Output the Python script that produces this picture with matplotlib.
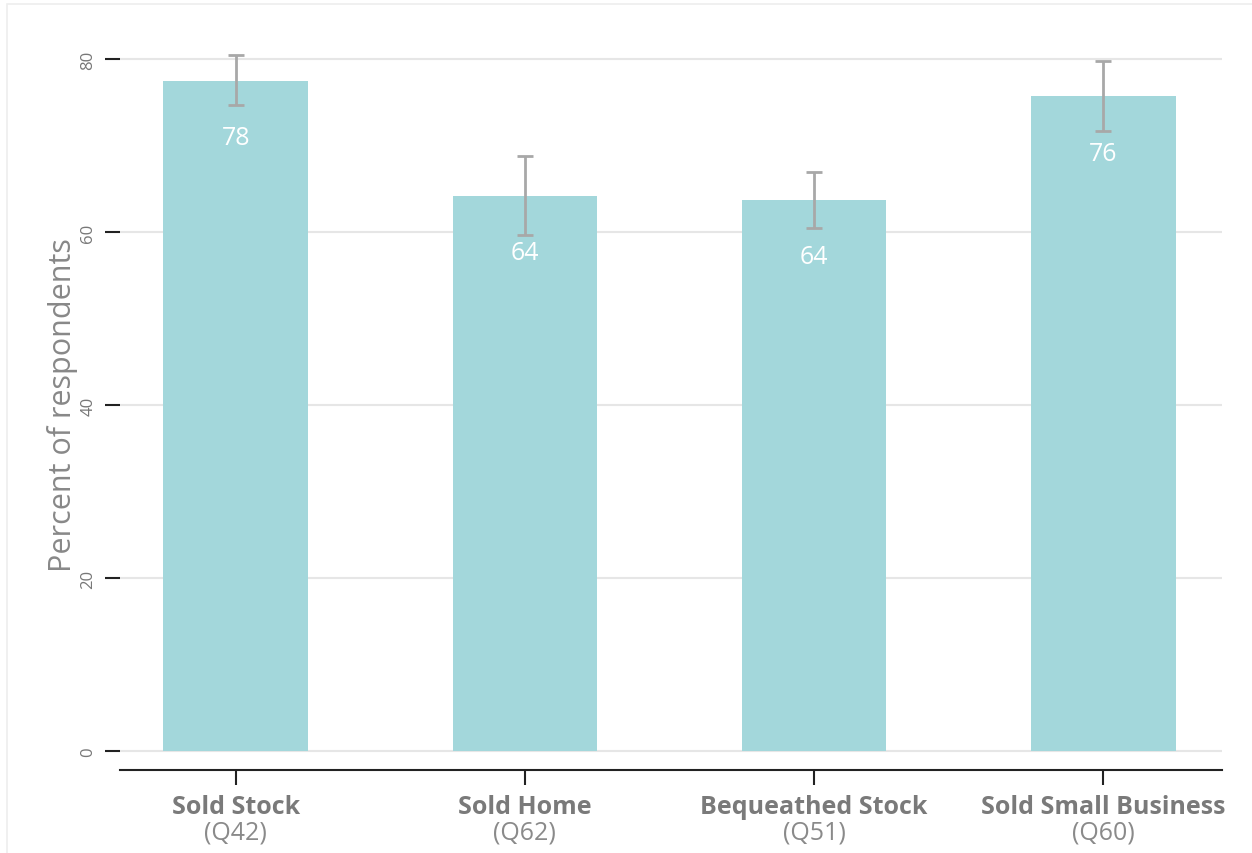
import matplotlib
matplotlib.use("Agg")
from matplotlib import pyplot as plt
from matplotlib.patches import Rectangle

# Chart data
categories = ["Sold Stock", "Sold Home", "Bequeathed Stock", "Sold Small Business"]
questions = ["(Q42)", "(Q62)", "(Q51)", "(Q60)"]
percent = [77.5, 64.2, 63.7, 75.7]
labels = ["78", "64", "64", "76"]
err_low = [2.8, 4.5, 3.2, 4.0]
err_high = [2.9, 4.6, 3.2, 4.1]
y_ticks = [0, 20, 40, 60, 80]

plt.rcParams['font.family'] = ['Open Sans', 'DejaVu Sans']

W, H = 1252, 854
fig = plt.figure(figsize=(W / 100, H / 100), dpi=100)

# axes placed in pixel terms
left, right, top, bottom = 120, 1222, 40, 771
axis = fig.add_axes([left / W, (H - bottom) / H, (right - left) / W, (bottom - top) / H])

# light frame around the whole chart
fig.add_artist(Rectangle((7 / W, -0.1), 1.2, (H - 5) / H + 0.1, transform=fig.transFigure,
                         fill=False, edgecolor='#EEEEEE', linewidth=1.2))

x = list(range(len(categories)))
axis.bar(x, percent, width=0.5, color='#A3D7DB', zorder=2)
axis.errorbar(x, percent, yerr=[err_low, err_high], fmt='none', ecolor='#A8A8A8',
              elinewidth=2, capsize=6, capthick=2, zorder=3)

for xi, val, lab in zip(x, percent, labels):
    axis.annotate(lab, (xi, val), xytext=(0, -41), textcoords='offset points',
                  ha='center', va='center', color='white', fontsize=18, zorder=4)

axis.set_xlim(-0.4, 3.41)
axis.set_ylim(-2.2, 82.3)

axis.set_yticks(y_ticks)
axis.set_yticklabels([str(t) for t in y_ticks], rotation=90, va='center', color='#777777', fontsize=12)
axis.tick_params(axis='y', length=11, width=1.5, color='#222222', pad=6)
axis.yaxis.grid(True, color='#E6E6E6', linewidth=1.5, zorder=0)
axis.set_axisbelow(True)

axis.set_xticks(x)
axis.set_xticklabels([])
axis.tick_params(axis='x', length=11, width=1.5, color='#222222')
for xi, cat, q in zip(x, categories, questions):
    axis.annotate(cat, (xi, 0), xycoords=('data', 'axes fraction'), xytext=(0, -17),
                  textcoords='offset points', ha='center', va='top', fontsize=18,
                  fontweight='bold', color='#7A7A7A')
    axis.annotate(q, (xi, 0), xycoords=('data', 'axes fraction'), xytext=(0, -36),
                  textcoords='offset points', ha='center', va='top', fontsize=18,
                  color='#8A8A8A')

for side in ['top', 'right', 'left']:
    axis.spines[side].set_visible(False)
axis.spines['bottom'].set_color('#222222')
axis.spines['bottom'].set_linewidth(1.5)

axis.set_ylabel('Percent of respondents', fontsize=22, color='#888888', labelpad=2)

fig.savefig('out.png', dpi=100)
